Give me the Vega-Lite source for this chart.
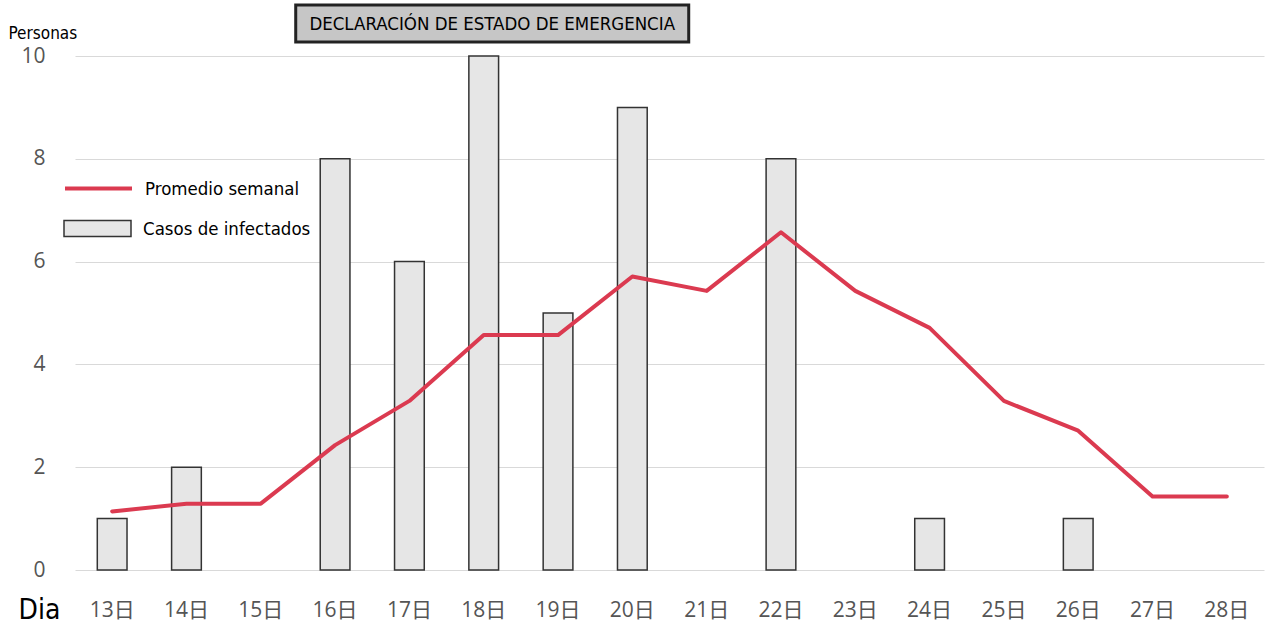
{
  "$schema": "https://vega.github.io/schema/vega-lite/v6.json",
  "width": 1189,
  "height": 514,
  "autosize": {"type": "none"},
  "padding": {"left": 75, "top": 56, "right": 13, "bottom": 64},
  "background": "white",
  "data": {
    "values": [
      {"dia": "13日", "casos": 1, "promedio": 1.14},
      {"dia": "14日", "casos": 2, "promedio": 1.29},
      {"dia": "15日", "casos": 0, "promedio": 1.29},
      {"dia": "16日", "casos": 8, "promedio": 2.43},
      {"dia": "17日", "casos": 6, "promedio": 3.29},
      {"dia": "18日", "casos": 10, "promedio": 4.57},
      {"dia": "19日", "casos": 5, "promedio": 4.57},
      {"dia": "20日", "casos": 9, "promedio": 5.71},
      {"dia": "21日", "casos": 0, "promedio": 5.43},
      {"dia": "22日", "casos": 8, "promedio": 6.57},
      {"dia": "23日", "casos": 0, "promedio": 5.43},
      {"dia": "24日", "casos": 1, "promedio": 4.71},
      {"dia": "25日", "casos": 0, "promedio": 3.29},
      {"dia": "26日", "casos": 1, "promedio": 2.71},
      {"dia": "27日", "casos": 0, "promedio": 1.43},
      {"dia": "28日", "casos": 0, "promedio": 1.43}
    ]
  },
  "config": {
    "view": {"stroke": null},
    "axis": {
      "domain": false,
      "ticks": false,
      "tickSize": 0,
      "labelFont": "Open Sans, Noto Sans CJK JP",
      "labelFontSize": 21,
      "labelColor": "#555555",
      "titleFont": "DejaVu Sans Condensed, Liberation Sans Narrow, Roboto",
      "titleFontWeight": "normal",
      "titleColor": "#000000"
    },
    "legend": {
      "labelFont": "DejaVu Sans Condensed, Liberation Sans Narrow, Roboto",
      "labelFontSize": 18.5,
      "labelColor": "#000000",
      "labelLimit": 400,
      "padding": 0
    }
  },
  "encoding": {
    "x": {
      "field": "dia",
      "type": "ordinal",
      "scale": {"paddingInner": 0, "paddingOuter": 0},
      "axis": {
        "title": "Dia",
        "titleX": -57,
        "titleY": 40,
        "titleAlign": "left",
        "titleBaseline": "middle",
        "titleAngle": 0,
        "titleFontSize": 28,
        "labelAngle": 0,
        "labelBaseline": "middle",
        "labelPadding": 40,
        "grid": false
      }
    }
  },
  "layer": [
    {
      "transform": [{"filter": "datum.casos > 0"}],
      "mark": {"type": "bar", "width": {"band": 0.4}, "stroke": "#333333", "strokeWidth": 1.5},
      "encoding": {
        "y": {
          "field": "casos",
          "type": "quantitative",
          "scale": {"domain": [0, 10], "nice": false},
          "axis": {
            "title": "Personas",
            "values": [0, 2, 4, 6, 8, 10],
            "grid": true,
            "gridColor": "#d9d9d9",
            "gridWidth": 1,
            "labelPadding": 30,
            "titleAngle": 0,
            "titleAlign": "left",
            "titleBaseline": "middle",
            "titleX": -67,
            "titleY": -23,
            "titleFontSize": 17
          }
        },
        "fill": {
          "datum": "Casos de infectados",
          "scale": {"range": ["#e6e6e6"]},
          "legend": {
            "title": null,
            "orient": "none",
            "legendX": -12,
            "legendY": 138,
            "symbolType": "M-1,-0.24H1V0.24H-1Z",
            "symbolSize": 4489,
            "symbolStrokeWidth": 1.5,
            "labelOffset": 11,
            "encode": {"symbols": {"update": {"fill": {"value": "#d3d3d8"}, "stroke": {"value": "#333333"}, "strokeWidth": {"value": 1.5}}}}
          }
        }
      }
    },
    {
      "mark": {"type": "line", "strokeWidth": 4, "strokeJoin": "round", "strokeCap": "round"},
      "encoding": {
        "y": {
          "field": "promedio",
          "type": "quantitative",
          "axis": {
            "title": "Personas",
            "values": [0, 2, 4, 6, 8, 10],
            "grid": true,
            "gridColor": "#d9d9d9",
            "gridWidth": 1,
            "labelPadding": 30,
            "titleAngle": 0,
            "titleAlign": "left",
            "titleBaseline": "middle",
            "titleX": -67,
            "titleY": -23,
            "titleFontSize": 17
          }
        },
        "stroke": {
          "datum": "Promedio semanal",
          "scale": {"range": ["#db3a50"]},
          "legend": {
            "title": null,
            "orient": "none",
            "legendX": -12,
            "legendY": 97,
            "symbolType": "M-1,0H1",
            "symbolSize": 4489,
            "symbolStrokeWidth": 4,
            "labelOffset": 11,
            "encode": {"symbols": {"update": {"stroke": {"value": "#9a2a40"}, "strokeWidth": {"value": 4}}}}
          }
        }
      }
    },
    {
      "data": {"values": [{"label": "DECLARACIÓN DE ESTADO DE EMERGENCIA"}]},
      "mark": {"type": "bar", "width": 393, "xOffset": 8.5, "fill": "#c6c6c6", "stroke": "#222222", "strokeWidth": 3, "clip": false},
      "encoding": {
        "x": {"datum": "18日"},
        "y": {"datum": 10.27},
        "y2": {"datum": 10.99}
      }
    },
    {
      "data": {"values": [{"label": "DECLARACIÓN DE ESTADO DE EMERGENCIA"}]},
      "mark": {"type": "text", "xOffset": 8.5, "font": "DejaVu Sans Condensed", "fontSize": 18.5, "fontWeight": 400, "fill": "#000000", "align": "center", "baseline": "middle", "clip": false},
      "encoding": {
        "text": {"field": "label"},
        "x": {"datum": "18日"},
        "y": {"datum": 10.63}
      }
    }
  ]
}
